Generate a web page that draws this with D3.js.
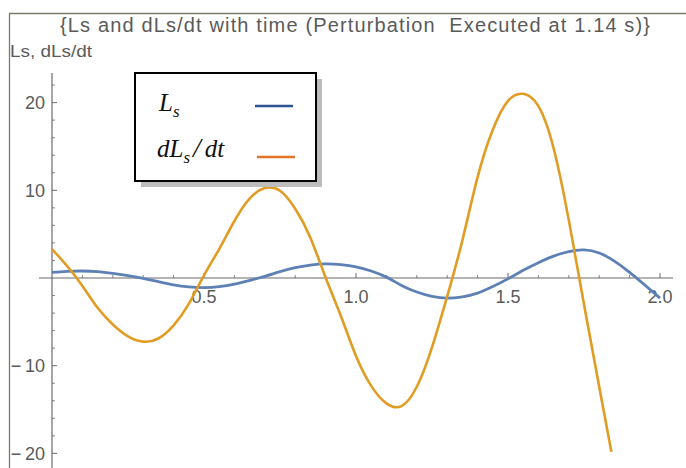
<!DOCTYPE html>
<html>
<head>
<meta charset="utf-8">
<script src="https://cdn.jsdelivr.net/npm/d3@7"></script>
<style>
  html, body { margin: 0; padding: 0; background: #fff; }
  svg { display: block; }
  text { white-space: pre; }
</style>
</head>
<body>
<svg id="chart" width="686" height="468"></svg>
<script>
// Time samples (s)
const timeLs = [0.00,0.05,0.10,0.15,0.20,0.25,0.30,0.35,0.40,0.45,0.50,0.55,0.60,0.65,0.70,0.75,0.80,0.85,0.90,0.95,
                1.00,1.05,1.10,1.15,1.20,1.25,1.30,1.35,1.40,1.45,1.50,1.55,1.60,1.65,1.70,1.75,1.80,1.85,1.90,1.95,2.00];
// Ls
const valuesLs = [0.65,0.76,0.80,0.72,0.52,0.27,-0.05,-0.42,-0.78,-1.02,-1.10,-0.99,-0.70,-0.28,0.18,0.72,1.18,1.47,1.60,1.52,
                  1.28,0.80,0.10,-0.85,-1.60,-2.10,-2.30,-2.14,-1.72,-0.97,-0.10,0.88,1.75,2.50,3.02,3.20,2.85,1.92,0.65,-0.80,-2.30];

const timeDLs = [0.00,0.05,0.10,0.15,0.20,0.25,0.30,0.35,0.40,0.45,0.50,0.55,0.60,0.65,0.70,0.75,0.80,0.85,0.90,0.95,
                 1.00,1.05,1.10,1.15,1.20,1.25,1.30,1.35,1.40,1.45,1.50,1.55,1.60,1.65,1.70,1.75,1.80,1.84];
// dLs/dt
const valuesDLs = [3.3,1.35,-0.9,-3.4,-5.3,-6.65,-7.25,-6.9,-5.4,-2.95,0.3,3.3,6.5,9.05,10.25,9.95,7.9,4.6,0.05,-4.3,
                   -8.9,-12.3,-14.3,-14.6,-12.4,-7.9,-2.1,4.3,11.5,16.9,20.2,21.0,19.6,14.8,6.6,-3.0,-12.4,-19.8];

const xMajor = [0.5, 1.0, 1.5, 2.0];
const xMinor = [0.1,0.2,0.3,0.4,0.6,0.7,0.8,0.9,1.1,1.2,1.3,1.4,1.6,1.7,1.8,1.9];
const yMajor = [-20, -10, 10, 20];
const yMinor = [-18,-16,-14,-12,-8,-6,-4,-2,2,4,6,8,12,14,16,18,22];

const svg = d3.select("#chart");

const x = d3.scaleLinear().domain([0, 2]).range([52, 660]);
const y = d3.scaleLinear().domain([0, 20]).range([278, 102.6]);

const axisColor = "#6a6a6a";
const labelColor = "#5a5a5a";
const sans = "Liberation Sans, Arial, sans-serif";

// outer frame (top and left edges)
svg.append("path")
  .attr("d", "M9.5,468 V13.5 H686")
  .attr("fill", "none").attr("stroke", "#7a7a6c").attr("stroke-width", 1.3);

// title
svg.append("text")
  .attr("x", 60).attr("y", 32)
  .attr("textLength", 590).attr("lengthAdjust", "spacing")
  .attr("font-family", sans)
  .attr("font-size", 20).attr("fill", labelColor)
  .text("{Ls and dLs/dt with time (Perturbation  Executed at 1.14 s)}");

// y axis label
svg.append("text")
  .attr("x", 10).attr("y", 57)
  .attr("textLength", 82).attr("lengthAdjust", "spacingAndGlyphs")
  .attr("font-family", sans)
  .attr("font-size", 16).attr("fill", labelColor)
  .text("Ls, dLs/dt");

// axes lines
svg.append("line").attr("x1", 39).attr("x2", 673).attr("y1", y(0)).attr("y2", y(0))
  .attr("stroke", axisColor).attr("stroke-width", 1.2);
svg.append("line").attr("x1", x(0)).attr("x2", x(0)).attr("y1", 73).attr("y2", 468)
  .attr("stroke", axisColor).attr("stroke-width", 1.2);

// x ticks (pointing up into the plot)
svg.append("g").selectAll("line").data(xMajor).join("line")
  .attr("x1", d => x(d)).attr("x2", d => x(d)).attr("y1", y(0)).attr("y2", y(0) - 5)
  .attr("stroke", axisColor).attr("stroke-width", 1);
svg.append("g").selectAll("line").data(xMinor).join("line")
  .attr("x1", d => x(d)).attr("x2", d => x(d)).attr("y1", y(0)).attr("y2", y(0) - 3)
  .attr("stroke", axisColor).attr("stroke-width", 0.8);

// y ticks (pointing right into the plot)
svg.append("g").selectAll("line").data(yMajor).join("line")
  .attr("x1", x(0)).attr("x2", x(0) + 5).attr("y1", d => y(d)).attr("y2", d => y(d))
  .attr("stroke", axisColor).attr("stroke-width", 1);
svg.append("g").selectAll("line").data(yMinor).join("line")
  .attr("x1", x(0)).attr("x2", x(0) + 3).attr("y1", d => y(d)).attr("y2", d => y(d))
  .attr("stroke", axisColor).attr("stroke-width", 0.8);

// tick labels
svg.append("g").selectAll("text").data(xMajor).join("text")
  .attr("x", d => x(d)).attr("y", y(0) + 25)
  .attr("text-anchor", "middle")
  .attr("font-family", sans)
  .attr("font-size", 18).attr("fill", labelColor)
  .text(d => d.toFixed(1));

svg.append("g").selectAll("text").data(yMajor).join("text")
  .attr("x", x(0) - 7).attr("y", d => y(d) + 6.5)
  .attr("text-anchor", "end")
  .attr("font-family", sans)
  .attr("font-size", 18).attr("fill", labelColor)
  .text(d => d < 0 ? "\u2212\u2009" + Math.abs(d) : String(d));

// curves
const lineGen = d3.line().curve(d3.curveNatural);

svg.append("path")
  .attr("d", lineGen(timeLs.map((t, i) => [x(t), y(valuesLs[i])])))
  .attr("fill", "none").attr("stroke", "#5E81B5").attr("stroke-width", 2.8);

svg.append("path")
  .attr("d", lineGen(timeDLs.map((t, i) => [x(t), y(valuesDLs[i])])))
  .attr("fill", "none").attr("stroke", "#E19C24").attr("stroke-width", 2.6);

// legend
const lg = svg.append("g");
lg.append("rect").attr("x", 141).attr("y", 79).attr("width", 181).attr("height", 108).attr("fill", "#bdbdbd");
lg.append("rect").attr("x", 135).attr("y", 73).attr("width", 181).attr("height", 108)
  .attr("fill", "#fff").attr("stroke", "#000").attr("stroke-width", 2);

const serif = "Liberation Serif, Times New Roman, serif";
const t1 = lg.append("text").attr("x", 159).attr("y", 111)
  .attr("font-family", serif).attr("font-style", "italic").attr("font-size", 25).attr("fill", "#111");
t1.append("tspan").text("L");
t1.append("tspan").attr("dy", 6).attr("font-size", 17).text("s");

const t2 = lg.append("text").attr("x", 157).attr("y", 157)
  .attr("font-family", serif).attr("font-style", "italic").attr("font-size", 25).attr("fill", "#111");
t2.append("tspan").text("dL");
t2.append("tspan").attr("dy", 6).attr("font-size", 17).text("s");
t2.append("tspan").attr("dy", -6).attr("dx", 3).attr("font-size", 28).text("/");
t2.append("tspan").attr("dx", 4).text("dt");

lg.append("line").attr("x1", 255).attr("x2", 293).attr("y1", 106).attr("y2", 106)
  .attr("stroke", "#2E5390").attr("stroke-width", 2.5);
lg.append("line").attr("x1", 257).attr("x2", 295).attr("y1", 157).attr("y2", 157)
  .attr("stroke", "#E37326").attr("stroke-width", 2.5);
</script>
</body>
</html>
